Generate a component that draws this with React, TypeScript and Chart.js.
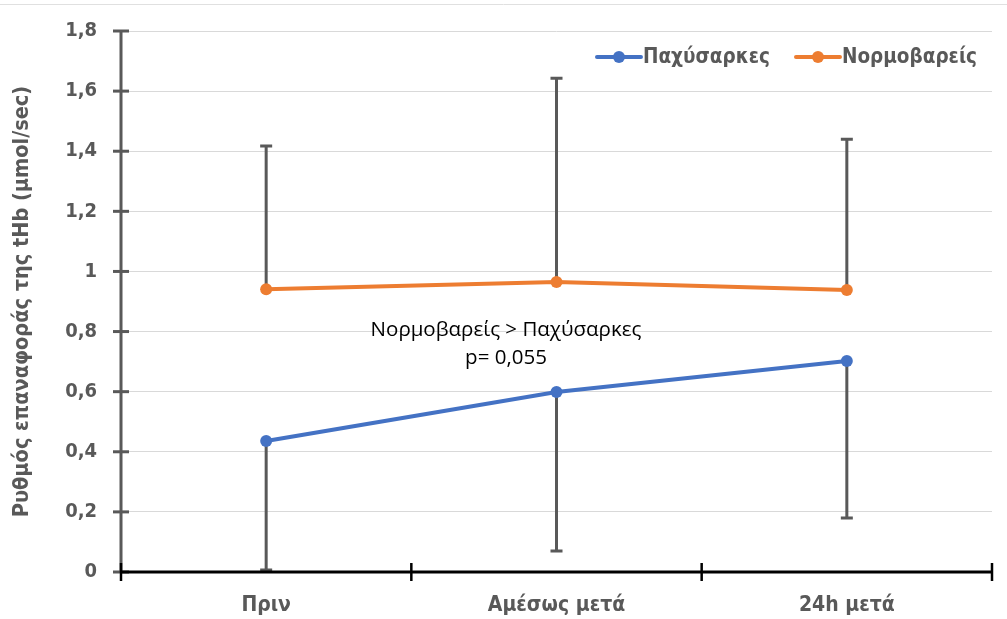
import { useEffect, useRef } from "react";
import { Chart, registerables } from "chart.js";

Chart.register(...registerables);

const categories = ["Πριν", "Αμέσως μετά", "24h μετά"];
const seriesNames = ["Παχύσαρκες", "Νορμοβαρείς"];
const obeseMeans = [0.436, 0.599, 0.702];
const obeseErrLow = [0.429, 0.529, 0.522];
const normalMeans = [0.941, 0.965, 0.938];
const normalErrHigh = [0.476, 0.678, 0.502];
const yTickValues = [0, 0.2, 0.4, 0.6, 0.8, 1, 1.2, 1.4, 1.6, 1.8];
const yTickLabels = ["0", "0,2", "0,4", "0,6", "0,8", "1", "1,2", "1,4", "1,6", "1,8"];
const yTitle = "Ρυθμός επαναφοράς της tHb (μmol/sec)";
const annotationLines = ["Νορμοβαρείς > Παχύσαρκες", "p= 0,055"];

const BLUE = "#4472C4";
const ORANGE = "#ED7D31";
const GRAY = "#595959";
const FONT = "'Liberation Sans Narrow', 'DejaVu Sans Condensed', 'Liberation Sans', sans-serif";
const ANN_FONT = "'Open Sans', 'Noto Sans', sans-serif";

const decorPlugin = {
  id: "decor",
  beforeDraw(chart: any) {
    const ctx = chart.ctx;
    ctx.save();
    ctx.strokeStyle = "#e0e0e0";
    ctx.lineWidth = 1;
    ctx.beginPath();
    ctx.moveTo(0, 4.5);
    ctx.lineTo(chart.width, 4.5);
    ctx.stroke();
    ctx.restore();
  },
  beforeDatasetsDraw(chart: any) {
    const ctx = chart.ctx;
    const xs = chart.scales.x;
    const ys = chart.scales.y;
    ctx.save();
    ctx.strokeStyle = GRAY;
    ctx.lineWidth = 3;
    const cap = 6;
    categories.forEach((_, i) => {
      const x = xs.getPixelForValue(i);
      const y0 = ys.getPixelForValue(normalMeans[i]);
      const y1 = ys.getPixelForValue(normalMeans[i] + normalErrHigh[i]);
      ctx.beginPath();
      ctx.moveTo(x, y0);
      ctx.lineTo(x, y1);
      ctx.moveTo(x - cap, y1);
      ctx.lineTo(x + cap, y1);
      ctx.stroke();
      const z0 = ys.getPixelForValue(obeseMeans[i]);
      const z1 = ys.getPixelForValue(obeseMeans[i] - obeseErrLow[i]);
      ctx.beginPath();
      ctx.moveTo(x, z0);
      ctx.lineTo(x, z1);
      ctx.moveTo(x - cap, z1);
      ctx.lineTo(x + cap, z1);
      ctx.stroke();
    });
    ctx.restore();
  },
  afterDatasetsDraw(chart: any) {
    const ctx = chart.ctx;
    const { left, right, top, bottom } = chart.chartArea;
    const ys = chart.scales.y;
    ctx.save();
    ctx.strokeStyle = GRAY;
    ctx.lineWidth = 3;
    ctx.beginPath();
    ctx.moveTo(left, top);
    ctx.lineTo(left, bottom);
    ctx.stroke();
    yTickValues.forEach((v) => {
      const y = ys.getPixelForValue(v);
      ctx.beginPath();
      ctx.moveTo(left - 8, y);
      ctx.lineTo(left + 8, y);
      ctx.stroke();
    });
    ctx.strokeStyle = "#000000";
    ctx.lineWidth = 3;
    ctx.beginPath();
    ctx.moveTo(left, bottom);
    ctx.lineTo(right, bottom);
    ctx.stroke();
    ctx.lineWidth = 2.5;
    const n = categories.length;
    for (let k = 0; k <= n; k++) {
      const x = left + ((right - left) * k) / n;
      ctx.beginPath();
      ctx.moveTo(x, bottom - 9);
      ctx.lineTo(x, bottom + 9);
      ctx.stroke();
    }
    ctx.fillStyle = "#000000";
    ctx.font = `20.5px ${ANN_FONT}`;
    ctx.textAlign = "center";
    ctx.textBaseline = "middle";
    const ax = left + (right - left) * 0.442;
    ctx.fillText(annotationLines[0], ax, ys.getPixelForValue(0.805));
    ctx.fillText(annotationLines[1], ax, ys.getPixelForValue(0.713));
    ctx.font = `bold 20.5px ${FONT}`;
    ctx.textBaseline = "middle";
    ctx.textAlign = "left";
    const ly = 57;
    const colors = [BLUE, ORANGE];
    const widths = seriesNames.map((s) => ctx.measureText(s).width);
    const sample = 46;
    const gap = 26;
    let x = right - 15;
    const starts: number[] = [];
    for (let i = seriesNames.length - 1; i >= 0; i--) {
      const textStart = x - widths[i];
      starts[i] = textStart;
      x = textStart - sample - gap;
    }
    seriesNames.forEach((s, i) => {
      const ts = starts[i];
      ctx.strokeStyle = colors[i];
      ctx.lineWidth = 4;
      ctx.lineCap = "round";
      ctx.beginPath();
      ctx.moveTo(ts - sample, ly);
      ctx.lineTo(ts - 2, ly);
      ctx.stroke();
      ctx.fillStyle = colors[i];
      ctx.beginPath();
      ctx.arc(ts - sample / 2 - 1, ly, 6, 0, Math.PI * 2);
      ctx.fill();
      ctx.fillStyle = GRAY;
      ctx.fillText(s, ts, ly + 1);
    });
    ctx.restore();
  },
};

export default function App() {
  const ref = useRef<HTMLCanvasElement | null>(null);
  useEffect(() => {
    if (!ref.current) return;
    const chart = new Chart(ref.current, {
      type: "line",
      data: {
        labels: categories,
        datasets: [
          {
            label: seriesNames[0],
            data: obeseMeans,
            borderColor: BLUE,
            backgroundColor: BLUE,
            borderWidth: 4,
            pointRadius: 6,
            pointHoverRadius: 6,
            pointBackgroundColor: BLUE,
            pointBorderWidth: 0,
            tension: 0,
          },
          {
            label: seriesNames[1],
            data: normalMeans,
            borderColor: ORANGE,
            backgroundColor: ORANGE,
            borderWidth: 4,
            pointRadius: 6,
            pointHoverRadius: 6,
            pointBackgroundColor: ORANGE,
            pointBorderWidth: 0,
            tension: 0,
          },
        ],
      },
      options: {
        animation: false,
        responsive: false,
        maintainAspectRatio: false,
        layout: { padding: { left: 0, right: 15, top: 31, bottom: 0 } },
        plugins: {
          legend: { display: false },
          tooltip: { enabled: false },
        },
        scales: {
          x: {
            type: "category",
            offset: true,
            grid: { display: false, drawTicks: false },
            border: { display: false },
            ticks: {
              color: GRAY,
              font: { family: FONT, size: 21, weight: "bold" },
              padding: 21,
            },
            afterFit: (scale: any) => {
              scale.height = 47;
            },
          },
          y: {
            min: 0,
            max: 1.8,
            grid: {
              color: "#d9d9d9",
              lineWidth: 1,
              drawTicks: true,
              tickLength: 24,
              tickColor: "rgba(0,0,0,0)",
            },
            border: { display: false },
            ticks: {
              stepSize: 0.2,
              color: GRAY,
              padding: 0,
              font: { family: FONT, size: 20, weight: "bold" },
              callback: (v: any) => {
                const idx = yTickValues.findIndex((t) => Math.abs(t - Number(v)) < 1e-6);
                return idx >= 0 ? yTickLabels[idx] : "";
              },
            },
            title: {
              display: true,
              text: yTitle,
              color: GRAY,
              font: { family: FONT, size: 21.5, weight: "bold" },
              padding: { top: 10, bottom: 0 },
            },
            afterFit: (scale: any) => {
              scale.width = 121;
            },
          },
        },
      },
      plugins: [decorPlugin],
    });
    return () => chart.destroy();
  }, []);
  return (
    <div style={{ position: "fixed", left: 0, top: 0, width: 1007, height: 619, background: "#ffffff" }}>
      <canvas ref={ref} width={1007} height={619} style={{ width: 1007, height: 619 }} />
    </div>
  );
}
